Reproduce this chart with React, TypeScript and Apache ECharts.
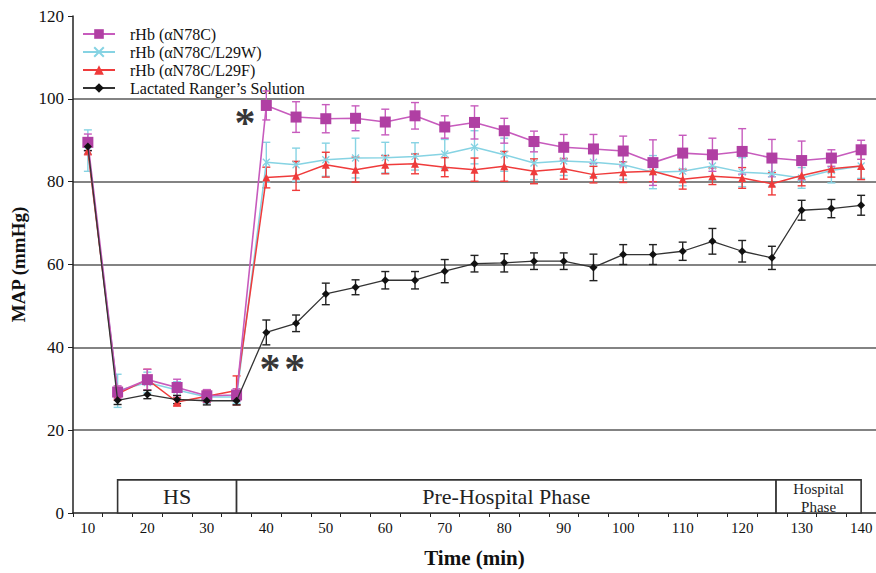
import React, { useEffect, useRef } from "react";
import * as echarts from "echarts";

const times = ["10","15","20","25","30","35","40","45","50","55","60","65","70","75","80","85","90","95","100","105","110","115","120","125","130","135","140"];
const xLabels = ["10","20","30","40","50","60","70","80","90","100","110","120","130","140"];

const magentaVals = [89.5,29.2,32.2,30.3,28.3,28.5,98.4,95.6,95.2,95.3,94.4,95.9,93.2,94.3,92.3,89.7,88.3,87.9,87.4,84.6,86.9,86.5,87.3,85.7,85.1,85.7,87.7];
const magentaErr  = [2,1.5,2.5,2,1.5,1.5,3.5,3.7,3.4,3,3.1,3.2,2.7,4,3,2.5,3.1,3.5,3.6,5.5,4.3,4,5.5,4.5,4.7,2,2.3];
const cyanVals = [87.5,29.5,31.5,29.7,28,28,84.7,84.1,85.3,85.7,85.8,86.1,86.7,88.3,86.5,84.5,85,84.7,84.1,82.3,82.5,83.8,82.3,81.9,80.9,82.7,83.8];
const cyanErr  = [5,4,2.5,2,1.5,1.5,4.8,4,4,4.8,3.7,3.3,3.5,4,4,4,3.5,3.5,3.5,4,3.5,3.5,3.5,3,2.5,3,3];
const redVals = [87.5,28.8,32.2,26.8,28.2,29.6,81,81.4,84.1,82.9,84.1,84.3,83.5,82.9,83.7,82.5,83.1,81.7,82.3,82.5,80.6,81.3,80.9,79.5,81.5,83.1,83.8];
const redErr  = [1,1.5,2.5,1,1.5,3.5,2.5,3.5,3,3,2.2,2.4,2.3,2.8,3.6,3,2.5,2,2.5,2.5,2.4,2,2.5,2.7,2.5,2,3.3];
const blackVals = [88.5,27.2,28.6,27.4,27.1,27.1,43.6,45.8,52.9,54.5,56.2,56.2,58.4,60.2,60.4,60.8,60.8,59.3,62.4,62.4,63.2,65.6,63.2,61.6,73.1,73.5,74.3];
const blackErr  = [1,1,1,1,1,1,3,2,2.6,1.8,2.1,2.1,2.8,2,2.2,2,2,3.2,2.4,2.4,2.2,3.1,2.6,2.8,2.4,2.2,2.4];

const seriesNames = ["rHb (αN78C)", "rHb (αN78C/L29W)", "rHb (αN78C/L29F)", "Lactated Ranger’s Solution"];

const phaseNames = ["HS", "Pre-Hospital Phase", "Hospital\nPhase"];
const phaseStart = [15, 35, 125.7];
const phaseEnd = [35, 125.7, 140];
const phaseHeight = [8, 8, 8];
const phaseFont = [22, 22, 15];

const starLabels = ["*", "*", "*"];
const starX = [36.4, 40.6, 44.8];
const starY = [95.6, 36.1, 36.1];

const FONT = "'Liberation Serif', 'Times New Roman', serif";

function errSeries(name: string, vals: number[], errs: number[], color: string, z: number) {
  return {
    type: "custom",
    name: name + "-err",
    z,
    silent: true,
    data: vals.map((v, i) => [i, v - errs[i], v + errs[i]]),
    encode: { x: 0, y: [1, 2] },
    renderItem: (params: any, api: any) => {
      const x = api.value(0);
      const lo = api.coord([x, api.value(1)]);
      const hi = api.coord([x, api.value(2)]);
      const w = 4;
      const st = { stroke: color, lineWidth: 1.4 };
      return {
        type: "group",
        children: [
          { type: "line", shape: { x1: lo[0], y1: lo[1], x2: hi[0], y2: hi[1] }, style: st },
          { type: "line", shape: { x1: lo[0] - w, y1: lo[1], x2: lo[0] + w, y2: lo[1] }, style: st },
          { type: "line", shape: { x1: hi[0] - w, y1: hi[1], x2: hi[0] + w, y2: hi[1] }, style: st },
        ],
      };
    },
  };
}

export default function App() {
  const ref = useRef<HTMLDivElement>(null);
  useEffect(() => {
    const chart = echarts.init(ref.current!, null, { renderer: "svg" });
    const colors = { m: "#c75bbd", mMark: "#b03fa3", c: "#86d3e3", r: "#ef3b3b", k: "#111111" };
    chart.setOption({
      animation: false,
      backgroundColor: "#ffffff",
      textStyle: { fontFamily: FONT },
      grid: { left: 73, right: 0, top: 16, bottom: 56, containLabel: false },
      legend: {
        orient: "vertical",
        left: 82,
        top: 25,
        padding: 0,
        itemWidth: 32,
        itemHeight: 12,
        itemGap: 0,
        data: seriesNames,
        textStyle: { fontFamily: FONT, fontSize: 16, lineHeight: 18, color: "#111", padding: [0, 0, 0, 10] },
      },
      xAxis: [
        {
          type: "category",
          data: times,
          boundaryGap: true,
          name: "Time (min)",
          nameLocation: "middle",
          nameGap: 34,
          nameTextStyle: { fontFamily: FONT, fontSize: 21, fontWeight: "bold", color: "#111" },
          axisLine: { lineStyle: { color: "#222", width: 1.5 } },
          axisTick: { show: true, interval: 0, length: 4, lineStyle: { color: "#222" } },
          axisLabel: {
            interval: 1,
            fontFamily: FONT,
            fontSize: 15,
            color: "#111",
            margin: 7,
            formatter: (v: string) => (xLabels.indexOf(v) >= 0 ? v : ""),
          },
          splitLine: { show: false },
        },
        { type: "value", show: false, min: 7.5, max: 142.5 },
      ],
      yAxis: {
        type: "value",
        min: 0,
        max: 120,
        interval: 20,
        name: "MAP (mmHg)",
        nameLocation: "middle",
        nameGap: 42,
        nameTextStyle: { fontFamily: FONT, fontSize: 19, fontWeight: "bold", color: "#111" },
        axisLine: { show: true, lineStyle: { color: "#222", width: 1.5 } },
        axisTick: { show: true, length: 5, lineStyle: { color: "#222" } },
        axisLabel: { fontFamily: FONT, fontSize: 17, color: "#111", margin: 9 },
        splitLine: { show: true, showMinLine: false, showMaxLine: false, lineStyle: { color: "#5a5a5a", width: 1.6 } },
      },
      series: [
        {
          type: "custom",
          name: "phases",
          xAxisIndex: 1,
          z: 1,
          silent: true,
          data: phaseNames.map((n, i) => [phaseStart[i], phaseEnd[i], phaseHeight[i]]),
          encode: { x: [0, 1], y: 2 },
          renderItem: (params: any, api: any) => {
            const i = params.dataIndex;
            const p0 = api.coord([api.value(0), 0]);
            const p1 = api.coord([api.value(1), api.value(2)]);
            return {
              type: "group",
              children: [
                {
                  type: "rect",
                  shape: { x: p0[0], y: p1[1], width: p1[0] - p0[0], height: p0[1] - p1[1] },
                  style: { fill: "#fff", stroke: "#333", lineWidth: 1.6 },
                },
                {
                  type: "text",
                  style: {
                    text: phaseNames[i],
                    x: (p0[0] + p1[0]) / 2,
                    y: (p0[1] + p1[1]) / 2 + (i === 2 ? 2 : 0),
                    align: "center",
                    verticalAlign: "middle",
                    font: `${phaseFont[i]}px 'Liberation Serif', serif`,
                    fontFamily: FONT,
                    fontSize: phaseFont[i],
                    lineHeight: phaseFont[i] + 3,
                    fill: "#222",
                  },
                },
              ],
            };
          },
        },
        errSeries(seriesNames[1], cyanVals, cyanErr, colors.c, 2),
        errSeries(seriesNames[2], redVals, redErr, colors.r, 3),
        errSeries(seriesNames[0], magentaVals, magentaErr, colors.m, 4),
        errSeries(seriesNames[3], blackVals, blackErr, "#222", 5),
        {
          type: "line",
          name: seriesNames[1],
          data: cyanVals,
          z: 6,
          symbol: "path://M-1,-1L1,1M1,-1L-1,1",
          symbolSize: 7,
          lineStyle: { color: colors.c, width: 1.5 },
          itemStyle: { color: colors.c, borderColor: colors.c, borderWidth: 1.3 },
        },
        {
          type: "line",
          name: seriesNames[2],
          data: redVals,
          z: 7,
          symbol: "triangle",
          symbolSize: 8,
          lineStyle: { color: colors.r, width: 1.5 },
          itemStyle: { color: colors.r },
        },
        {
          type: "line",
          name: seriesNames[0],
          data: magentaVals,
          z: 8,
          symbol: "rect",
          symbolSize: 11,
          lineStyle: { color: colors.m, width: 1.6 },
          itemStyle: { color: colors.mMark },
        },
        {
          type: "line",
          name: seriesNames[3],
          data: blackVals,
          z: 9,
          symbol: "diamond",
          symbolSize: 8,
          lineStyle: { color: "#333", width: 1.3 },
          itemStyle: { color: colors.k },
        },
        {
          type: "scatter",
          name: "stars",
          xAxisIndex: 1,
          z: 10,
          silent: true,
          symbolSize: 1,
          itemStyle: { color: "transparent" },
          data: starLabels.map((s, i) => [starX[i], starY[i]]),
          label: {
            show: true,
            position: "inside",
            formatter: (p: any) => starLabels[p.dataIndex],
            fontFamily: FONT,
            fontSize: 42,
            lineHeight: 18,
            fontWeight: "bold",
            color: "#000",
            offset: [0, 6],
          },
        },
      ],
    });
    return () => chart.dispose();
  }, []);
  return <div ref={ref} style={{ width: 876, height: 573, position: "absolute", left: 0, top: 0 }} />;
}
